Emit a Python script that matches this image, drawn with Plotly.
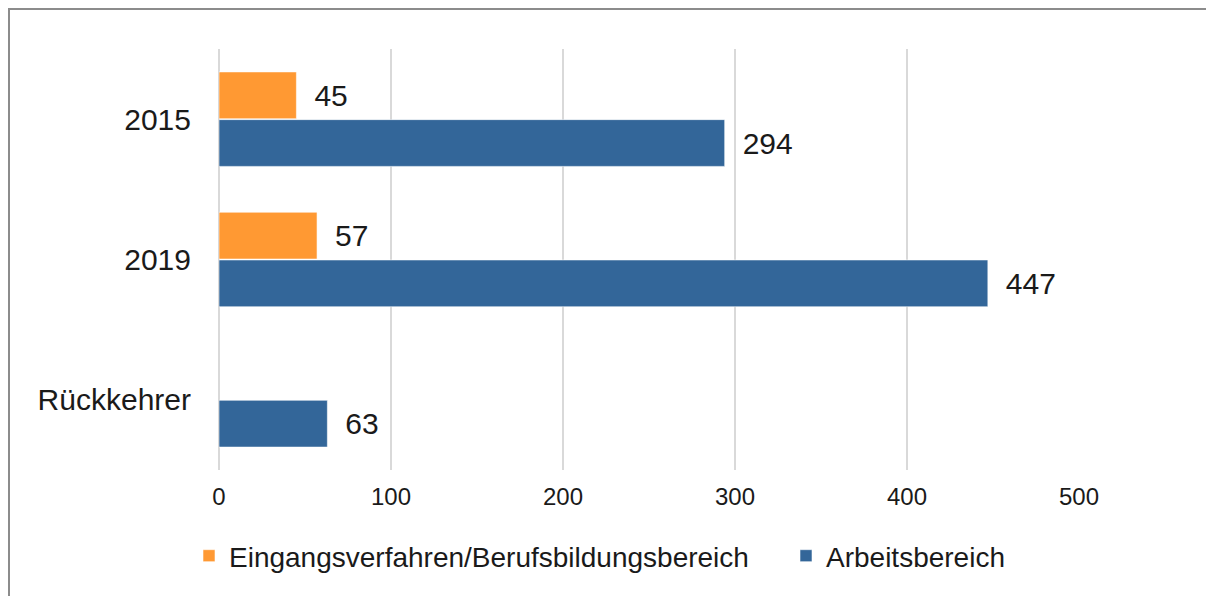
import plotly.graph_objects as go

categories = ["2015", "2019", "Rückkehrer"]
eingang = [45, 57, None]
arbeit = [294, 447, 63]
series_names = ["Eingangsverfahren/Berufsbildungsbereich", "Arbeitsbereich"]
x_ticks = [0, 100, 200, 300, 400, 500]

FONT = "Liberation Sans, Arial, sans-serif"
TXT = "#1a1a1a"
ORANGE = "#FF9933"
BLUE = "#336699"

OFF = 8  # default page body margin
W, H = 1214 - 2 * OFF, 612 - 2 * OFF - 8
L, T = 219 - OFF, 49 - OFF
PR, PB = 1079 - OFF, 470 - OFF
R, B = W - PR, H - PB
pw, ph = W - L - R, H - T - B

def px_x(p):
    return (p - OFF - L) / pw

def px_y(p):
    return (H - B - (p - OFF)) / ph

fig = go.Figure()
legends = ["legend", "legend2"]
for name, vals, col, lg in [(series_names[0], eingang, ORANGE, legends[0]),
                            (series_names[1], arbeit, BLUE, legends[1])]:
    fig.add_trace(go.Bar(
        y=categories, x=vals, name=name, orientation="h", legend=lg,
        marker=dict(color=col, line=dict(color="rgba(255,255,255,0.55)", width=1)),
        text=[("\u2002" + str(v)) if v is not None else "" for v in vals],
        textposition="outside", constraintext="none", cliponaxis=False,
        textfont=dict(family=FONT, size=30, color=TXT),
        hoverinfo="skip",
    ))

leg_common = dict(orientation="h", xanchor="left", yanchor="middle",
                  font=dict(family=FONT, size=28, color=TXT),
                  bgcolor="rgba(0,0,0,0)")

fig.update_layout(
    width=W, height=H,
    margin=dict(l=L, r=R, t=T, b=B, pad=0),
    paper_bgcolor="white", plot_bgcolor="white",
    barmode="group", bargap=0.32, bargroupgap=0.02,
    font=dict(family=FONT, color=TXT),
    showlegend=True,
    legend=dict(x=px_x(189), y=px_y(556), **leg_common),
    legend2=dict(x=px_x(786), y=px_y(556), **leg_common),
    xaxis=dict(
        range=[0, 500], tickvals=x_ticks, ticktext=[str(t) for t in x_ticks],
        showgrid=True, gridcolor="#d9d9d9", gridwidth=1.5,
        zeroline=True, zerolinecolor="#d9d9d9", zerolinewidth=1.5,
        showline=False, ticks="outside", ticklen=5, tickcolor="rgba(0,0,0,0)",
        tickfont=dict(family=FONT, size=24, color=TXT), fixedrange=True,
    ),
    yaxis=dict(
        categoryorder="array", categoryarray=categories, autorange="reversed",
        showgrid=False, showline=False, zeroline=False,
        ticks="outside", ticklen=21, tickcolor="rgba(0,0,0,0)",
        tickfont=dict(family=FONT, size=30, color=TXT), fixedrange=True,
    ),
    shapes=[
        dict(type="line", xref="paper", yref="paper", x0=px_x(8), x1=px_x(OFF + W),
             y0=px_y(9), y1=px_y(9), line=dict(color="#8c8c8c", width=2)),
        dict(type="line", xref="paper", yref="paper", x0=px_x(9), x1=px_x(9),
             y0=px_y(8), y1=px_y(OFF + H), line=dict(color="#8c8c8c", width=2)),
    ],
)

fig.write_html("out.html", config={"displayModeBar": False})
